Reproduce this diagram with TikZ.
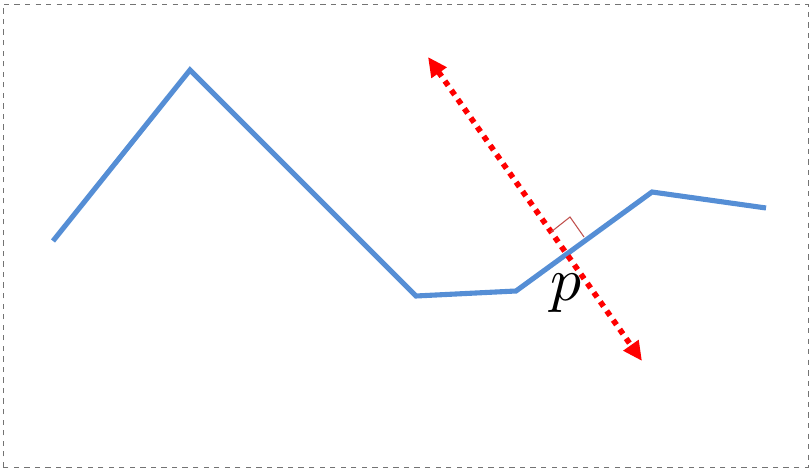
\documentclass[tikz,border=0pt]{standalone}
\usepackage{tikz}
\usetikzlibrary{arrows.meta, calc}

\definecolor{lineblue}{RGB}{85,142,213}
\definecolor{markred}{RGB}{192,80,77}

\begin{document}
\begin{tikzpicture}[
      frame/.style={draw=black!55, dashed, line width=0.5pt},
      polyline/.style={draw=lineblue, line width=2.9pt, line join=miter},
      normal/.style={draw=red, line width=3.2pt, dash pattern=on 3.2pt off 3.2pt,
                     {Triangle[length=11pt,width=10pt]}-{Triangle[length=11pt,width=10pt]}},
      rightangle/.style={draw=markred, line width=0.6pt}
    ]
    \useasboundingbox (0,0) rectangle (16.2,9.36);
    \draw[frame] (0.06,0.02) rectangle (16.16,9.28);

    % the curve
    \coordinate (a) at (1.06,4.54);
    \coordinate (b) at (3.80,7.96);
    \coordinate (c) at (8.32,3.44);
    \coordinate (d) at (10.32,3.54);
    \coordinate (e) at (13.04,5.52);
    \coordinate (f) at (15.32,5.20);
    \draw[polyline] (a) -- (b) -- (c) -- (d) -- (e) -- (f);

    % normal through p
    \coordinate (top) at (8.56,8.22);
    \coordinate (bottom) at (12.84,2.14);
    \draw[normal] (top) -- (bottom);

    \coordinate (m1) at (11.02,4.72);
    \coordinate (m2) at (11.40,5.02);
    \coordinate (m3) at (11.68,4.62);
    \draw[rightangle] (m1) -- (m2) -- (m3);

    \node[scale=3.5] (p) at (11.32,3.50) {$p$};
  \end{tikzpicture}
\end{document}
